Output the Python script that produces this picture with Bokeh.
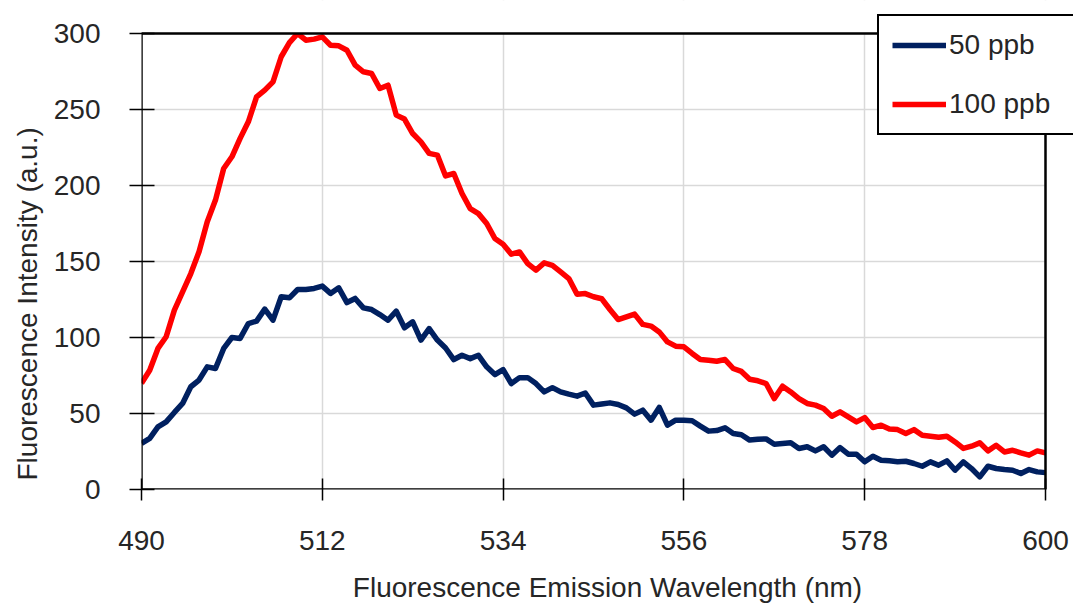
from bokeh.plotting import figure
from bokeh.models import Range1d, FixedTicker, Legend, LegendItem, Title
from bokeh.embed import file_html
from bokeh.resources import INLINE

wavelength = list(range(490, 601))

ppb50 = [30.3, 33.6, 41.2, 44.5, 50.7, 56.6, 67.6, 72.0, 80.7, 79.6,
         92.8, 100.0, 99.4, 109.2, 110.8, 118.7, 111.4, 126.8, 126.1, 131.6,
         131.6, 132.3, 133.8, 129.0, 132.7, 123.0, 125.7, 119.5, 118.4, 115.1,
         111.4, 117.3, 106.4, 110.3, 98.3, 105.9, 98.3, 93.1, 85.5, 88.3,
         86.1, 88.3, 80.7, 75.6, 78.9, 69.7, 73.6, 73.6, 69.7, 64.2,
         67.0, 64.2, 62.7, 61.4, 63.5, 55.5, 56.3, 57.0, 55.9, 53.7,
         49.6, 52.2, 45.6, 54.0, 42.3, 45.6, 45.6, 45.2, 41.7, 38.4,
         38.8, 40.6, 36.8, 36.0, 32.5, 33.1, 33.3, 29.8, 30.2, 30.7,
         27.0, 28.1, 25.4, 28.1, 22.6, 27.6, 23.2, 23.2, 18.2, 21.9,
         19.3, 18.9, 18.3, 18.6, 17.1, 15.3, 18.2, 16.0, 18.8, 12.7,
         18.2, 13.8, 8.3, 15.3, 13.8, 13.1, 12.7, 10.5, 13.1, 11.6,
         11.1]

ppb100 = [69.8, 78.5, 92.8, 100.5, 118.0, 130.0, 142.1, 156.4, 176.1, 190.4,
          211.2, 218.9, 231.0, 241.9, 258.3, 262.7, 268.2, 284.7, 294.0, 300.0,
          295.6, 296.3, 297.8, 292.3, 291.9, 289.0, 279.2, 274.8, 273.7, 263.8,
          266.0, 246.3, 243.7, 234.2, 228.7, 221.1, 220.0, 206.3, 207.9, 194.7,
          184.8, 181.5, 175.0, 165.1, 161.4, 154.8, 156.3, 148.6, 144.3, 149.1,
          147.5, 143.2, 138.8, 128.5, 128.9, 126.8, 125.5, 118.4, 111.8, 113.6,
          115.4, 108.6, 107.5, 103.7, 97.1, 94.3, 93.9, 89.5, 85.5, 85.1,
          84.4, 85.5, 79.6, 77.7, 72.5, 71.5, 69.7, 59.8, 68.0, 64.2,
          59.8, 56.6, 55.5, 53.3, 48.2, 51.1, 47.8, 44.5, 47.3, 40.8,
          42.3, 39.8, 39.4, 36.8, 39.4, 35.7, 35.1, 34.4, 35.1, 31.3,
          27.0, 28.5, 30.7, 25.4, 29.1, 24.7, 25.8, 24.1, 22.6, 25.4,
          24.1]

x_ticks = [490, 512, 534, 556, 578, 600]
y_ticks = [0, 50, 100, 150, 200, 250, 300]
series_names = ["50 ppb", "100 ppb"]
series_colors = ["#002060", "#FF0000"]
x_title = "Fluorescence Emission Wavelength (nm)"
y_title = "Fluorescence Intensity (a.u.)"

FONT = "Liberation Sans"
TXT = "#262626"

# The frame is extended to the right and upward so that the legend
# (which overlaps the box corner in the reference) is not clipped.
x0, x1 = x_ticks[0], x_ticks[-1]
y0, y1 = y_ticks[0], y_ticks[-1]
x_end = x1 + 28 * (x1 - x0) / 904.0
y_end = y1 + 33 * (y1 - y0) / 456.0

p = figure(width=1073, height=605, output_backend="svg", toolbar_location=None,
           x_range=Range1d(x0, x_end), y_range=Range1d(y0, y_end),
           min_border_left=141, min_border_right=0, min_border_top=0,
           min_border_bottom=116)

p.outline_line_color = None

for ax in (p.xaxis[0], p.yaxis[0]):
    ax.axis_line_color = None
    ax.major_tick_line_color = "black"
    ax.major_tick_line_width = 1.5
    ax.minor_tick_line_color = None
    ax.major_label_text_font = FONT
    ax.major_label_text_font_size = "28px"
    ax.major_label_text_color = TXT
    ax.axis_label_text_font = FONT
    ax.axis_label_text_font_size = "28px"
    ax.axis_label_text_color = TXT
    ax.axis_label_text_font_style = "normal"

p.xaxis.ticker = FixedTicker(ticks=x_ticks)
p.yaxis.ticker = FixedTicker(ticks=y_ticks)
p.xaxis.major_tick_in = 11
p.xaxis.major_tick_out = 11
p.yaxis.major_tick_in = 13
p.yaxis.major_tick_out = 12
p.xaxis.major_label_standoff = 30
p.yaxis.major_label_standoff = 29
p.xaxis.axis_label = x_title
p.xaxis.axis_label_standoff = 19

# y title: bottom-aligned like the reference (starts just above the x axis)
yt = Title(text=y_title, align="left", offset=9, standoff=15,
           text_font=FONT, text_font_size="28px", text_font_style="normal",
           text_color=TXT)
p.add_layout(yt, "left")

p.xgrid.ticker = FixedTicker(ticks=x_ticks)
p.ygrid.ticker = FixedTicker(ticks=y_ticks)
for g in (p.xgrid[0], p.ygrid[0]):
    g.grid_line_color = "#D9D9D9"
    g.grid_line_width = 1.5

r1 = p.line(wavelength, ppb50, line_color=series_colors[0], line_width=5.5,
            line_join="round")
r2 = p.line(wavelength, ppb100, line_color=series_colors[1], line_width=5.5,
            line_join="round")

# white masks outside the plot box (clip lines and grid like the reference)
p.quad(left=[x0, x1], right=[x_end, x_end], bottom=[y1, y0], top=[y_end, y1],
       fill_color="white", line_color=None)
# plot box
p.quad(left=[x0], right=[x1], bottom=[y0], top=[y1], fill_color=None,
       line_color="black", line_width=2.5)

legend = Legend(items=[LegendItem(label=series_names[0], renderers=[r1]),
                       LegendItem(label=series_names[1], renderers=[r2])],
                location=(736, 354))
legend.label_text_font = FONT
legend.label_text_font_size = "28px"
legend.label_text_color = TXT
legend.glyph_width = 54
legend.glyph_height = 30
legend.label_standoff = 3
legend.label_width = 111
legend.padding = 13
legend.spacing = 27
legend.margin = 0
legend.border_line_color = "black"
legend.border_line_alpha = 1.0
legend.border_line_width = 2
legend.background_fill_color = "white"
legend.background_fill_alpha = 1
p.add_layout(legend, "center")

open("out.html", "w").write(file_html(p, INLINE))
